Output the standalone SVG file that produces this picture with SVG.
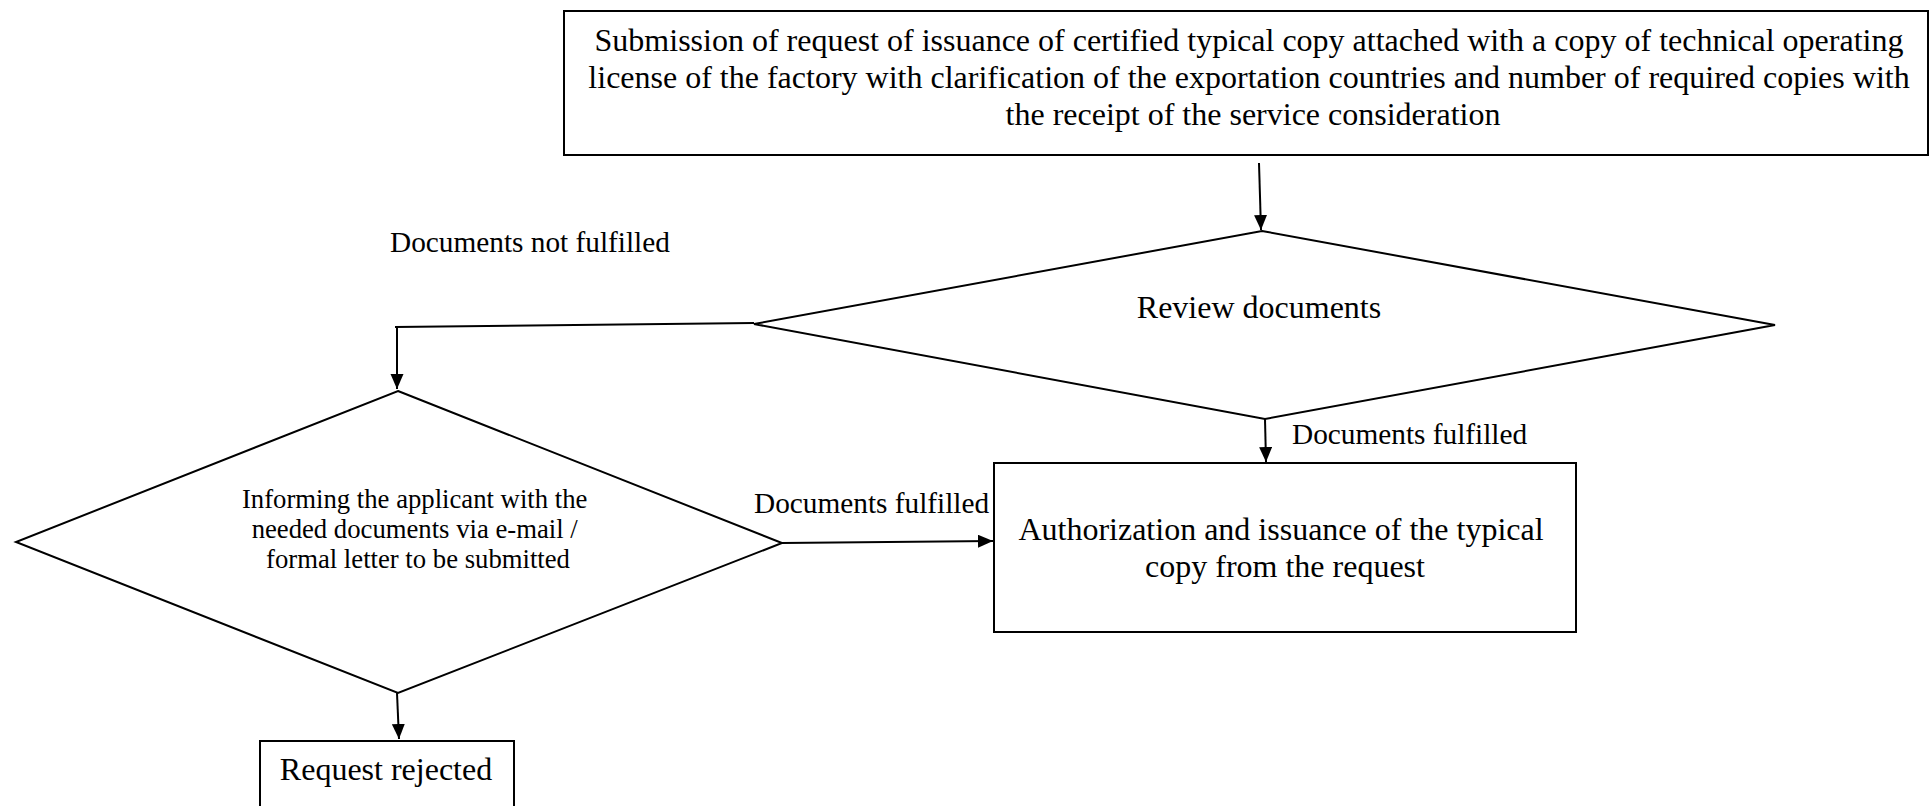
<svg xmlns="http://www.w3.org/2000/svg" width="1931" height="806" viewBox="0 0 1931 806">
<style>
.shape{fill:#fff;stroke:#000;stroke-width:2}
.t{font-family:"Liberation Serif","Times New Roman",serif;fill:#000}
.big{font-size:32px}
.lbl{font-size:29.3px}
.small{font-size:26.7px}
.conn{fill:none;stroke:#000;stroke-width:2}
</style>
<defs>
<marker id="arr" markerUnits="userSpaceOnUse" markerWidth="16" markerHeight="14" refX="15" refY="6.5" orient="auto">
<path d="M0,0 L15,6.5 L0,13 Z" fill="#000"/>
</marker>
</defs>
<rect width="1931" height="806" fill="#fff"/>
<g id="submission">
<rect class="shape" x="564" y="11" width="1364" height="144"/>
<text class="t big" text-anchor="middle">
<tspan x="1253" y="51">Submission of request of issuance of certified typical copy attached with a copy of technical operating</tspan>
<tspan x="1253" y="88">license of the factory with clarification of the exportation countries and number of required copies with</tspan>
<tspan x="1253" y="125">the receipt of the service consideration</tspan>
</text>
</g>
<g id="review">
<polygon class="shape" points="1262,231 1775,325 1265,419 754,324"/>
<text class="t big" text-anchor="middle" x="1259" y="318">Review documents</text>
</g>
<g id="informing">
<polygon class="shape" points="398,391 782,543 398,693 16,542"/>
<text class="t small" text-anchor="middle">
<tspan x="418" y="508">Informing the applicant with the</tspan>
<tspan x="418" y="538">needed documents via e-mail /</tspan>
<tspan x="418" y="568">formal letter to be submitted</tspan>
</text>
</g>
<g id="authorization">
<rect class="shape" x="994" y="463" width="582" height="169"/>
<text class="t big" text-anchor="middle">
<tspan x="1285" y="540">Authorization and issuance of the typical</tspan>
<tspan x="1285" y="577">copy from the request</tspan>
</text>
</g>
<g id="rejected">
<rect class="shape" x="260" y="741" width="254" height="80"/>
<text class="t big" text-anchor="middle" x="386" y="780">Request rejected</text>
</g>
<g id="connectors">
<path class="conn" d="M1259,163 L1261,230" marker-end="url(#arr)"/>
<path class="conn" d="M754,323 L395,327"/>
<path class="conn" d="M397,327 L397,389" marker-end="url(#arr)"/>
<path class="conn" d="M1265,419 L1266,462" marker-end="url(#arr)"/>
<path class="conn" d="M782,543 L993,541" marker-end="url(#arr)"/>
<path class="conn" d="M397,693 L399,739" marker-end="url(#arr)"/>
<text class="t lbl" x="390" y="252">Documents not fulfilled</text>
<text class="t lbl" x="1292" y="444">Documents fulfilled</text>
<text class="t lbl" x="754" y="513">Documents fulfilled</text>
</g>
</svg>
